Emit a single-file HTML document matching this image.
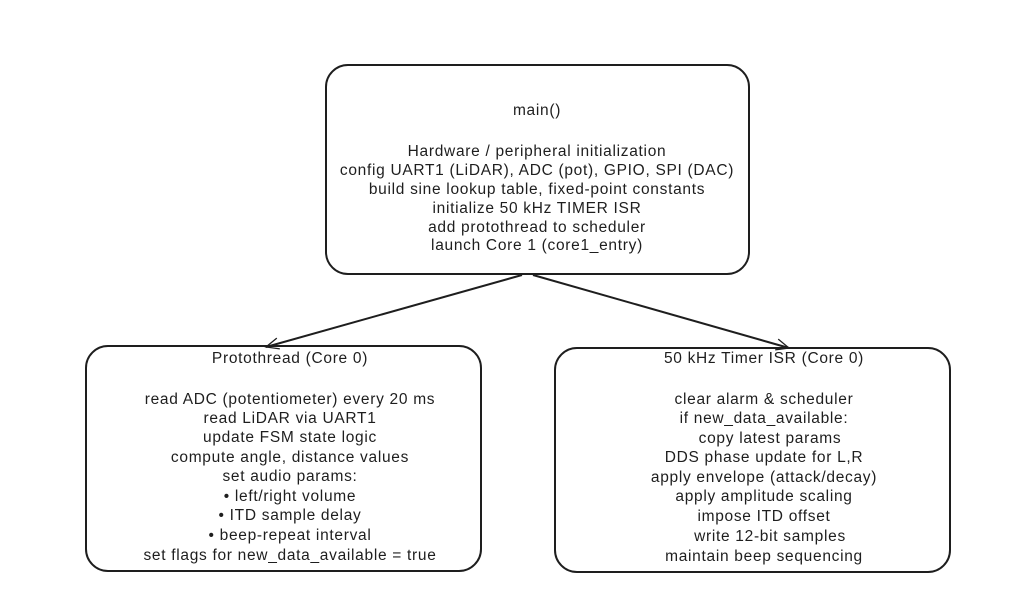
<!DOCTYPE html>
<html><head><meta charset="utf-8"><style>
html,body{margin:0;padding:0;background:#fff;}
svg text{font-family:"Liberation Sans",sans-serif;font-size:15.5px;letter-spacing:0.7px;fill:#1e1e1e;text-anchor:middle;}
</style></head><body>
<svg width="1015" height="607" viewBox="0 0 1015 607" xmlns="http://www.w3.org/2000/svg">
<defs>
<marker id="ah" viewBox="0 0 20 20" refX="18" refY="10" markerWidth="16" markerHeight="16" markerUnits="userSpaceOnUse" orient="auto">
<path d="M2,3 L18,10 L2,17" fill="none" stroke="#1e1e1e" stroke-width="1.6"/>
</marker>
</defs>
<g fill="none" stroke="#1e1e1e" stroke-width="2">
<rect x="326" y="65" width="423" height="209" rx="22"/>
<rect x="86" y="346" width="395" height="225" rx="22"/>
<rect x="555" y="348" width="395" height="224" rx="22"/>
<line x1="522" y1="275" x2="266" y2="347" marker-end="url(#ah)"/>
<line x1="533" y1="275" x2="789" y2="348" marker-end="url(#ah)"/>
</g>
<g>
<text x="537" y="115">main()</text>
<text x="537" y="156">Hardware / peripheral initialization</text>
<text x="537" y="175">config UART1 (LiDAR), ADC (pot), GPIO, SPI (DAC)</text>
<text x="537" y="194">build sine lookup table, fixed-point constants</text>
<text x="537" y="213">initialize  50 kHz TIMER ISR</text>
<text x="537" y="232">add protothread to scheduler</text>
<text x="537" y="250">launch Core 1 (core1_entry)</text>

<text x="290" y="363">Protothread (Core 0)</text>
<text x="290" y="404">read ADC (potentiometer) every 20 ms</text>
<text x="290" y="423">read LiDAR via UART1</text>
<text x="290" y="442">update FSM state logic</text>
<text x="290" y="462">compute angle, distance values</text>
<text x="290" y="481">set audio params:</text>
<text x="290" y="501">• left/right volume</text>
<text x="290" y="520">• ITD sample delay</text>
<text x="290" y="540">• beep-repeat interval</text>
<text x="290" y="560">set flags for new_data_available = true</text>

<text x="764" y="363">50 kHz Timer ISR (Core 0)</text>
<text x="764" y="404">clear alarm &amp; scheduler</text>
<text x="764" y="423">if new_data_available:</text>
<text x="770" y="443">copy latest params</text>
<text x="764" y="462">DDS phase update for L,R</text>
<text x="764" y="482">apply envelope (attack/decay)</text>
<text x="764" y="501">apply amplitude scaling</text>
<text x="764" y="521">impose ITD offset</text>
<text x="770" y="541">write 12-bit samples</text>
<text x="764" y="561">maintain beep sequencing</text>
</g>
</svg>
</body></html>
